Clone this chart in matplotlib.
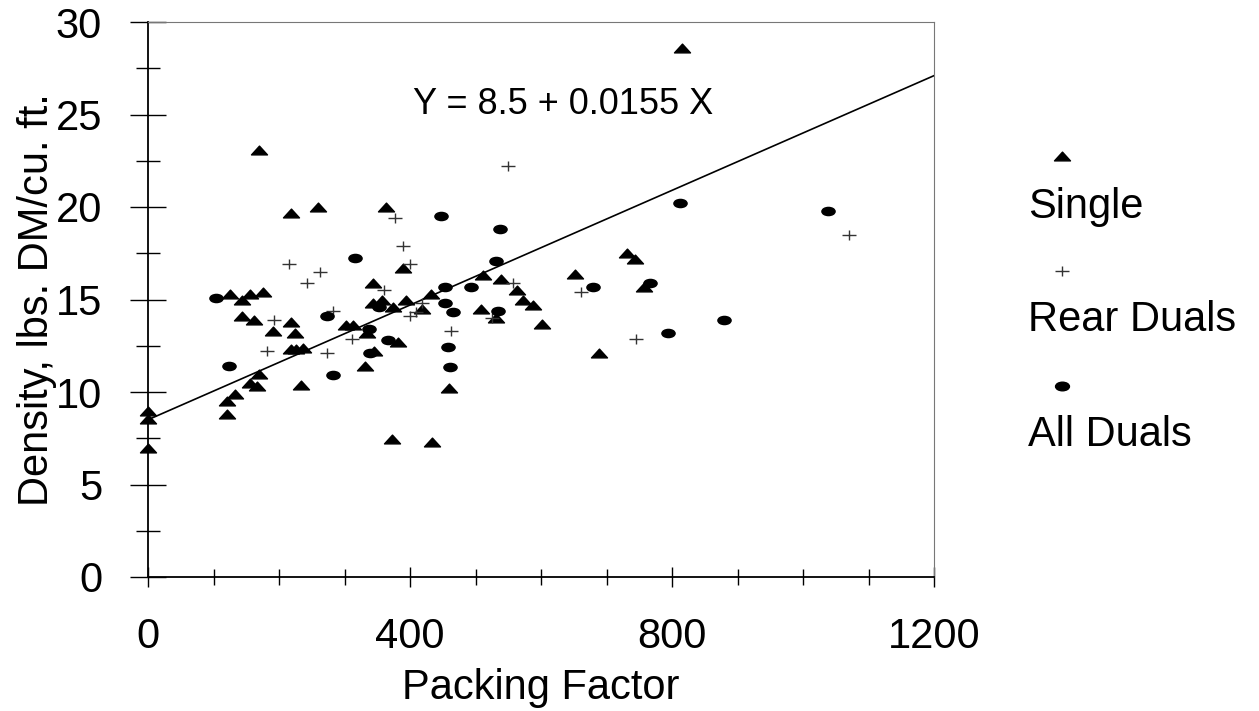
import matplotlib
matplotlib.use("Agg")
import matplotlib.pyplot as plt
import numpy as np
from matplotlib.path import Path
from matplotlib.lines import Line2D
from matplotlib.ticker import MultipleLocator, FixedLocator

plt.rcParams['font.family'] = ['Liberation Sans', 'DejaVu Sans']

# ---- data ----
single_x = [0, 0, 0, 125, 143, 156, 176, 143, 162, 219, 191, 224, 219, 236, 226,
            170, 155, 167, 133, 121, 120, 233, 219, 260, 363, 170,
            303, 313, 335, 345, 331, 382, 343, 343, 358, 374, 394, 419, 432, 389,
            511, 539, 563, 572, 588, 601, 509, 531, 460, 372, 434,
            652, 731, 744, 757, 689, 815]
single_y = [9.0, 8.56, 6.96, 15.3, 15.0, 15.3, 15.4, 14.1, 13.9, 13.8, 13.3, 13.2, 12.3, 12.4, 12.3,
            11.0, 10.5, 10.3, 9.9, 9.5, 8.8, 10.4, 19.7, 20.0, 20.0, 23.1,
            13.6, 13.6, 13.2, 12.2, 11.4, 12.7, 15.9, 14.8, 15.0, 14.6, 15.0, 14.5, 15.3, 16.7,
            16.3, 16.1, 15.5, 15.0, 14.7, 13.7, 14.5, 14.0, 10.2, 7.45, 7.3,
            16.4, 17.5, 17.2, 15.7, 12.1, 28.6]

rear_x = [193, 181, 216, 263, 243, 283, 274, 377, 389, 400, 361, 418, 400, 409,
          311, 462, 525, 558, 550, 661, 745, 1070]
rear_y = [13.9, 12.2, 16.9, 16.5, 15.9, 14.4, 12.1, 19.4, 17.9, 16.9, 15.5, 14.8, 14.1, 14.3,
          12.85, 13.3, 14.0, 15.9, 22.2, 15.4, 12.85, 18.5]

all_x = [104, 123, 316, 274, 283, 448, 537, 531, 453, 493, 453, 465, 534,
         352, 338, 366, 339, 458, 461, 812, 1038, 680, 767, 879, 794]
all_y = [15.1, 11.4, 17.25, 14.1, 10.9, 19.5, 18.8, 17.1, 15.7, 15.7, 14.8, 14.3, 14.4,
         14.6, 13.4, 12.8, 12.1, 12.45, 11.35, 20.2, 19.8, 15.7, 15.9, 13.9, 13.2]

intercept = 8.5
slope = 0.0155
equation = "Y = 8.5 + 0.0155 X"
series_names = ["Single", "Rear Duals", "All Duals"]
x_ticks = [0, 400, 800, 1200]
y_ticks = [0, 5, 10, 15, 20, 25, 30]

# ---- markers ----
tri = Path([(-1, -0.55), (1, -0.55), (0, 0.55), (-1, -0.55)],
           [Path.MOVETO, Path.LINETO, Path.LINETO, Path.CLOSEPOLY])
circ = Path.unit_circle()
ell = Path(circ.vertices * np.array([1.0, 0.62]), circ.codes)
plus = Path([(-1, 0), (1, 0), (0, -0.7), (0, 0.7)],
            [Path.MOVETO, Path.LINETO, Path.MOVETO, Path.LINETO])

W, H = 1259, 711
fig = plt.figure(figsize=(W / 100, H / 100), dpi=100)
L, R, T, B = 148, 934, 22, 577
ax = fig.add_axes([L / W, 1 - B / H, (R - L) / W, (B - T) / H])

xs = np.array([0, 1200])
ax.plot(xs, intercept + slope * xs, color='black', lw=1.2, zorder=2)

ax.plot(single_x, single_y, linestyle='none', marker=tri, markersize=11.5,
        color='black', zorder=3, clip_on=False)
ax.plot(rear_x, rear_y, linestyle='none', marker=plus, markersize=10,
        markeredgecolor='#333333', markeredgewidth=1.0, zorder=3, clip_on=False)
ax.plot(all_x, all_y, linestyle='none', marker=ell, markersize=9.5,
        color='black', zorder=3, clip_on=False)

ax.set_xlim(0, 1200)
ax.set_ylim(0, 30)
ax.xaxis.set_major_locator(FixedLocator(x_ticks))
ax.xaxis.set_minor_locator(MultipleLocator(100))
ax.yaxis.set_major_locator(FixedLocator(y_ticks))
ax.yaxis.set_minor_locator(MultipleLocator(2.5))

for s in ['left', 'bottom']:
    ax.spines[s].set_linewidth(1.3)
    ax.spines[s].set_color('black')
for s in ['top', 'right']:
    ax.spines[s].set_linewidth(0.8)
    ax.spines[s].set_color('#777777')

ax.tick_params(axis='y', which='major', direction='inout', length=26, width=1.0,
               labelsize=30, pad=20, right=False)
ax.tick_params(axis='y', which='minor', direction='inout', length=17, width=1.0, right=False)
ax.tick_params(axis='x', which='major', direction='inout', length=14, width=1.0,
               labelsize=30, pad=22, top=False)
ax.tick_params(axis='x', which='minor', direction='inout', length=11, width=1.0, top=False)

ax.set_xlabel("Packing Factor", fontsize=30, labelpad=8)
ax.set_ylabel("Density, lbs. DM/cu. ft.", fontsize=30, labelpad=-1)

ax.text(405, 25.55, equation, fontsize=26, ha='left', va='center')

# legend (manual, markers above labels)
leg_mx = 1062 / W
leg_items = [(tri, 11.5, 'black', None, 156, 207),
             (plus, 10, 'none', '#333333', 271, 320),
             (ell, 10, 'black', None, 386, 435)]
for name, (mk, ms, fc, ec, my, ty) in zip(series_names, leg_items):
    if fc == 'none':
        ln = Line2D([leg_mx], [1 - my / H], marker=mk, markersize=ms, linestyle='none',
                    markeredgecolor=ec, markeredgewidth=1.0, transform=fig.transFigure)
    else:
        ln = Line2D([leg_mx], [1 - my / H], marker=mk, markersize=ms, linestyle='none',
                    color=fc, transform=fig.transFigure)
    fig.add_artist(ln)
    fig.text(1028 / W, 1 - ty / H, name, fontsize=30, ha='left', va='center')

fig.savefig("out.png", dpi=100)
